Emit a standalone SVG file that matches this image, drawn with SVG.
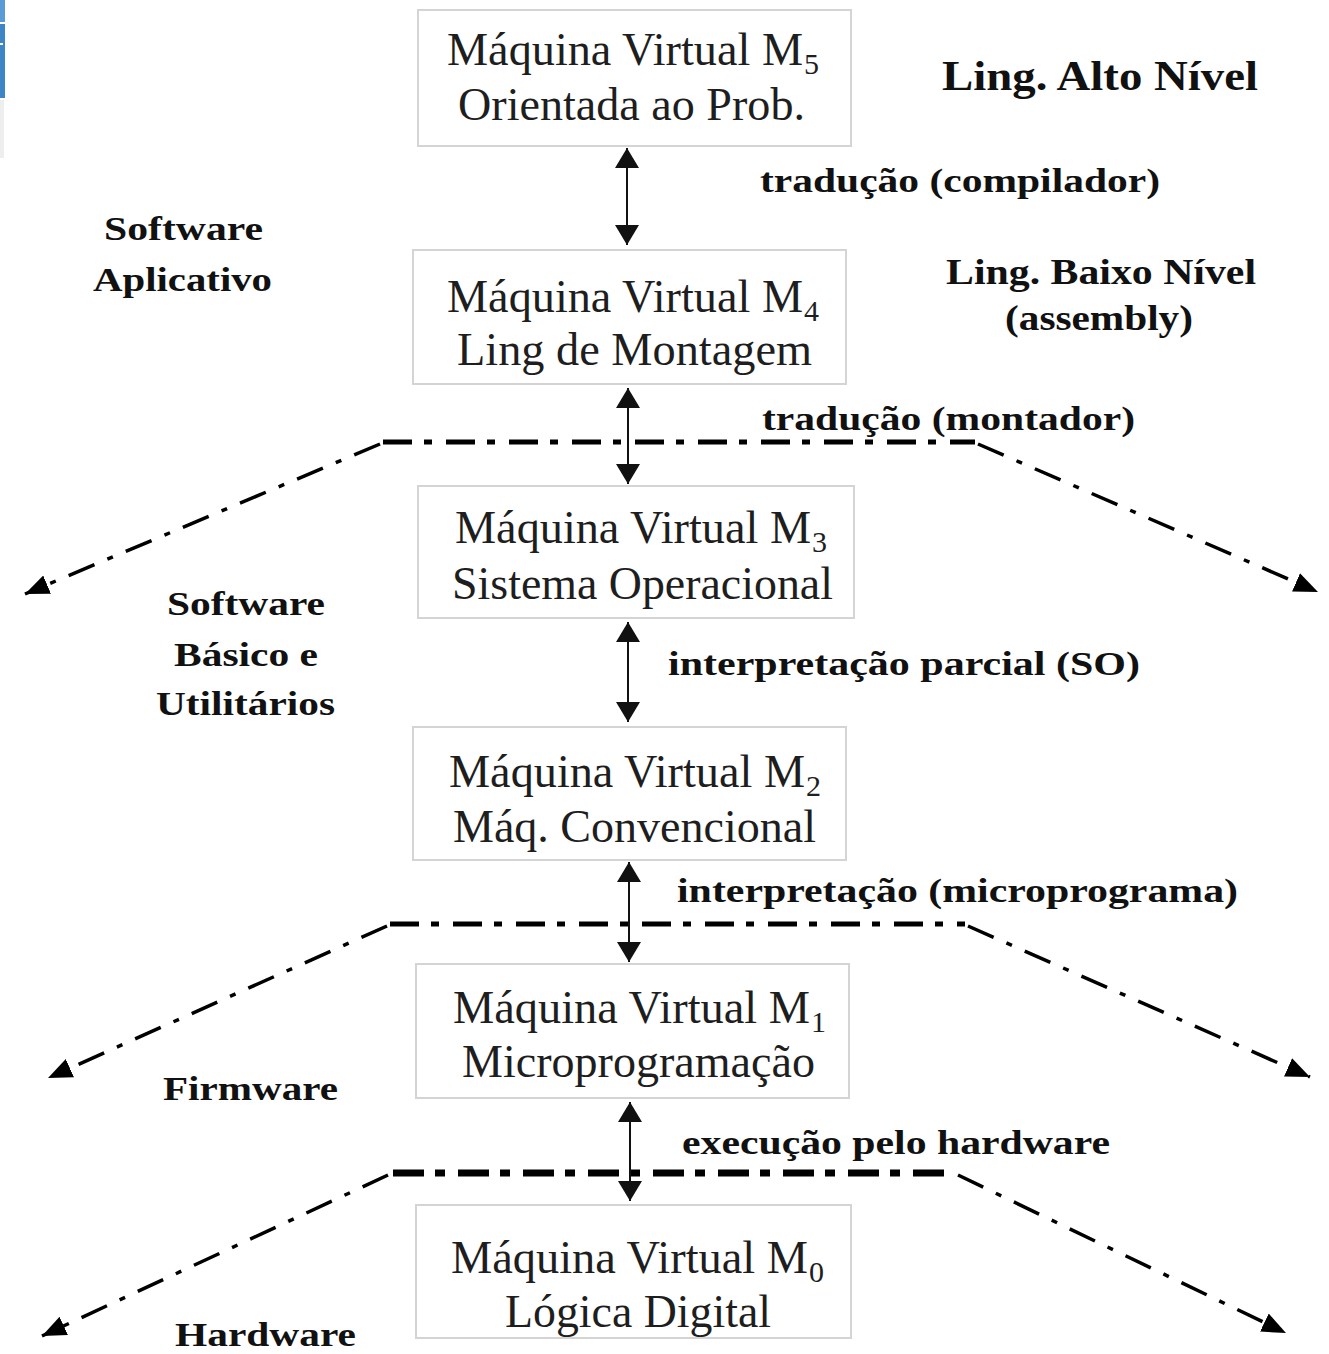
<svg xmlns="http://www.w3.org/2000/svg" width="1329" height="1354" viewBox="0 0 1329 1354">
  <style>
    .box { fill: #ffffff; stroke: #d4d4d4; stroke-width: 2; }
    .bt { font-family: "Liberation Serif", "Times New Roman", serif; font-size: 46px; fill: #1e1e1e; }
    .sub { font-family: "Liberation Serif", "Times New Roman", serif; font-size: 30px; fill: #1e1e1e; }
    .lb { font-family: "Liberation Serif", "Times New Roman", serif; font-weight: bold; font-size: 34px; fill: #111111; }
    .v { stroke: #111111; stroke-width: 2; fill: none; marker-start: url(#vhead); marker-end: url(#vhead); }
    .hl { stroke: #000000; stroke-width: 5; fill: none; stroke-dasharray: 29 12 8 14; }
    .hl2 { stroke: #000000; stroke-width: 7; fill: none; stroke-dasharray: 31 11 10 13; }
    .dg { stroke: #000000; stroke-width: 3.5; fill: none; stroke-dasharray: 28 14 6 14; marker-end: url(#dhead); }
  </style>
  <defs>
    <marker id="vhead" markerUnits="userSpaceOnUse" markerWidth="22" markerHeight="26" refX="20" refY="12" orient="auto-start-reverse">
      <path d="M0,0 L20,12 L0,24 z" fill="#111111"/>
    </marker>
    <marker id="dhead" markerUnits="userSpaceOnUse" markerWidth="26" markerHeight="22" refX="24" refY="10" orient="auto">
      <path d="M0,0 L24,10 L0,20 z" fill="#000000"/>
    </marker>
  </defs>

  <rect width="1329" height="1354" fill="#ffffff"/>

  <!-- window edge fragment -->
  <g id="edge">
    <rect x="0" y="0" width="5" height="22" fill="#5a9ad6"/>
    <rect x="0" y="24" width="5" height="74" fill="#3d85c6"/>
    <rect x="0" y="43" width="3" height="2" fill="#ffffff"/>
    <rect x="0" y="100" width="4" height="58" fill="#eeeeee"/>
  </g>

  <!-- layer boundaries -->
  <g id="boundaries">
    <line class="hl" x1="383" y1="442" x2="975" y2="442"/>
    <line class="dg" x1="380" y1="444" x2="25" y2="594"/>
    <line class="dg" x1="978" y1="444" x2="1318" y2="592"/>

    <line class="hl" x1="390" y1="924" x2="965" y2="924"/>
    <line class="dg" x1="387" y1="926" x2="48" y2="1078"/>
    <line class="dg" x1="968" y1="926" x2="1310" y2="1077"/>

    <line class="hl2" x1="393" y1="1173" x2="955" y2="1173"/>
    <line class="dg" x1="388" y1="1175" x2="42" y2="1336"/>
    <line class="dg" x1="958" y1="1175" x2="1286" y2="1333"/>
  </g>

  <!-- connectors between levels -->
  <g id="connectors">
    <line class="v" x1="627" y1="148" x2="627" y2="245"/>
    <line class="v" x1="628" y1="388" x2="628" y2="484"/>
    <line class="v" x1="628" y1="622" x2="628" y2="722"/>
    <line class="v" x1="629" y1="862" x2="629" y2="962"/>
    <line class="v" x1="630" y1="1102" x2="630" y2="1201"/>
  </g>

  <g id="m5">
    <rect class="box" x="418" y="10" width="433" height="136"/>
    <text class="bt" x="447" y="65" textLength="356" lengthAdjust="spacingAndGlyphs">Máquina Virtual M</text>
    <text class="sub" x="804" y="74">5</text>
    <text class="bt" x="458" y="120" textLength="347" lengthAdjust="spacingAndGlyphs">Orientada ao Prob.</text>
  </g>

  <g id="m4">
    <rect class="box" x="413" y="250" width="433" height="134"/>
    <text class="bt" x="447" y="312" textLength="356" lengthAdjust="spacingAndGlyphs">Máquina Virtual M</text>
    <text class="sub" x="804" y="321">4</text>
    <text class="bt" x="457" y="365" textLength="355" lengthAdjust="spacingAndGlyphs">Ling de Montagem</text>
  </g>

  <g id="m3">
    <rect class="box" x="418" y="486" width="436" height="132"/>
    <text class="bt" x="455" y="543" textLength="356" lengthAdjust="spacingAndGlyphs">Máquina Virtual M</text>
    <text class="sub" x="812" y="552">3</text>
    <text class="bt" x="452" y="599" textLength="381" lengthAdjust="spacingAndGlyphs">Sistema Operacional</text>
  </g>

  <g id="m2">
    <rect class="box" x="413" y="727" width="433" height="133"/>
    <text class="bt" x="449" y="787" textLength="356" lengthAdjust="spacingAndGlyphs">Máquina Virtual M</text>
    <text class="sub" x="806" y="796">2</text>
    <text class="bt" x="453" y="842" textLength="363" lengthAdjust="spacingAndGlyphs">Máq. Convencional</text>
  </g>

  <g id="m1">
    <rect class="box" x="416" y="964" width="433" height="134"/>
    <text class="bt" x="453" y="1023" textLength="357" lengthAdjust="spacingAndGlyphs">Máquina Virtual M</text>
    <text class="sub" x="811" y="1032">1</text>
    <text class="bt" x="462" y="1077" textLength="353" lengthAdjust="spacingAndGlyphs">Microprogramação</text>
  </g>

  <g id="m0">
    <rect class="box" x="416" y="1205" width="435" height="133"/>
    <text class="bt" x="451" y="1273" textLength="357" lengthAdjust="spacingAndGlyphs">Máquina Virtual M</text>
    <text class="sub" x="809" y="1282">0</text>
    <text class="bt" x="505" y="1327" textLength="266" lengthAdjust="spacingAndGlyphs">Lógica Digital</text>
  </g>

  <!-- side labels -->
  <g id="labels">
    <text class="lb" x="942" y="90" style="font-size:42px" textLength="316" lengthAdjust="spacingAndGlyphs">Ling. Alto Nível</text>
    <text class="lb" x="760" y="192" textLength="400" lengthAdjust="spacingAndGlyphs">tradução (compilador)</text>
    <text class="lb" x="104" y="240" textLength="159" lengthAdjust="spacingAndGlyphs">Software</text>
    <text class="lb" x="93" y="291" textLength="179" lengthAdjust="spacingAndGlyphs">Aplicativo</text>
    <text class="lb" x="946" y="284" style="font-size:36px" textLength="310" lengthAdjust="spacingAndGlyphs">Ling. Baixo Nível</text>
    <text class="lb" x="1005" y="330" style="font-size:36px" textLength="188" lengthAdjust="spacingAndGlyphs">(assembly)</text>
    <text class="lb" x="762" y="430" textLength="373" lengthAdjust="spacingAndGlyphs">tradução (montador)</text>
    <text class="lb" x="167" y="615" textLength="158" lengthAdjust="spacingAndGlyphs">Software</text>
    <text class="lb" x="174" y="666" textLength="144" lengthAdjust="spacingAndGlyphs">Básico e</text>
    <text class="lb" x="156" y="715" textLength="179" lengthAdjust="spacingAndGlyphs">Utilitários</text>
    <text class="lb" x="668" y="675" textLength="472" lengthAdjust="spacingAndGlyphs">interpretação parcial (SO)</text>
    <text class="lb" x="677" y="902" textLength="561" lengthAdjust="spacingAndGlyphs">interpretação (microprograma)</text>
    <text class="lb" x="163" y="1100" textLength="175" lengthAdjust="spacingAndGlyphs">Firmware</text>
    <text class="lb" x="682" y="1154" textLength="428" lengthAdjust="spacingAndGlyphs">execução pelo hardware</text>
    <text class="lb" x="175" y="1346" textLength="181" lengthAdjust="spacingAndGlyphs">Hardware</text>
  </g>
</svg>
